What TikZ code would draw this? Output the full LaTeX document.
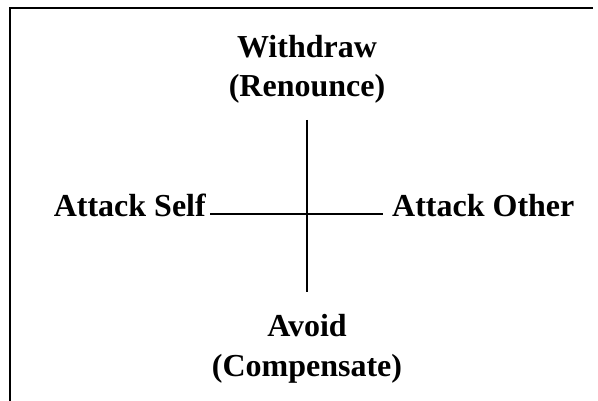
\documentclass[tikz,border=0pt]{standalone}
\usepackage{fontspec}
\setmainfont{Liberation Serif}
\begin{document}
\begin{tikzpicture}[x=1pt,y=-1pt,
  lbl/.style={font=\bfseries\fontsize{32}{39}\selectfont, inner sep=0pt, anchor=base},
  axis/.style={line width=1.6pt}]
  \useasboundingbox (0,0) rectangle (598,401);
  % frame: left and top edges only
  \draw[line width=2.4pt] (10,401) -- (10,8) -- (593,8);
  % labels above and below
  \node[lbl] (withdraw) at (307,58) {Withdraw};
  \node[lbl] (renounce) at (307,97) {(Renounce)};
  \node[lbl] (avoid) at (307,337) {Avoid};
  \node[lbl] (compensate) at (307,376) {(Compensate)};
  % labels left and right
  \node[lbl, anchor=base east] (self) at (206,217) {Attack Self};
  \node[lbl, anchor=base west] (other) at (392,217) {Attack Other};
  % ends of the cross
  \coordinate (top) at (307,120);
  \coordinate (bottom) at (307,292);
  \coordinate (left) at (210,214);
  \coordinate (right) at (383,214);
  \draw[axis] (top) -- (bottom);
  \draw[axis] (left) -- (right);
\end{tikzpicture}
\end{document}
